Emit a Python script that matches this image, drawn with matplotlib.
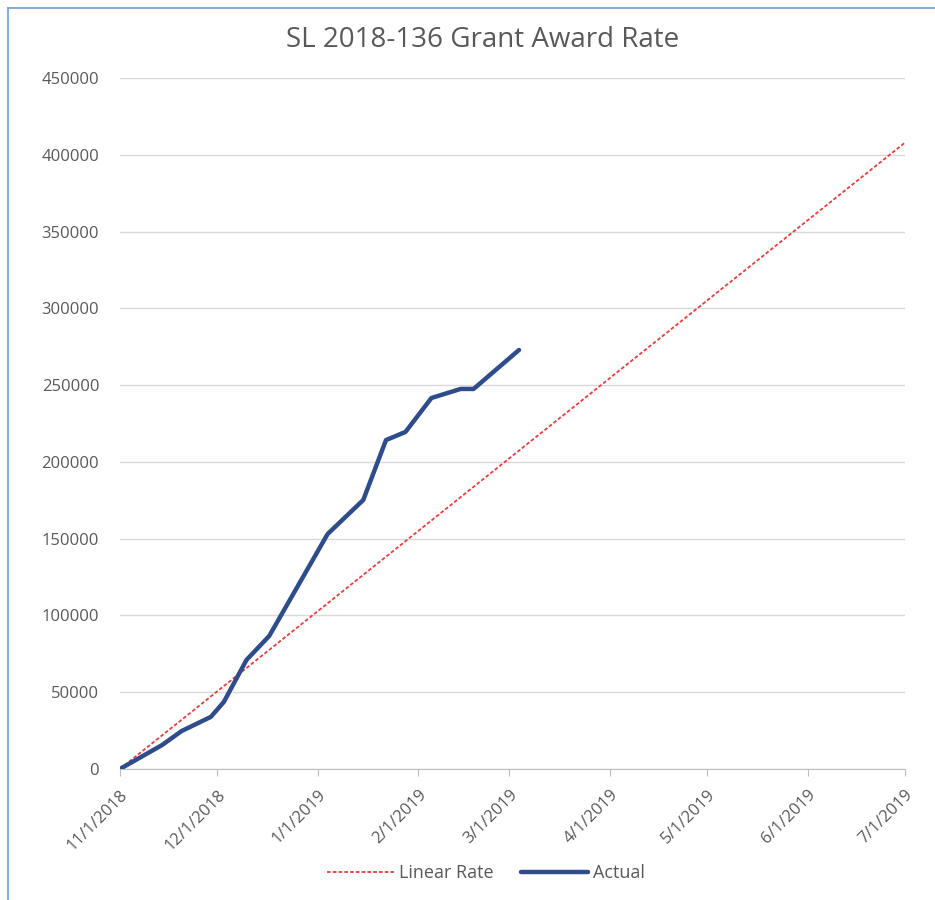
import matplotlib.pyplot as plt
import matplotlib.dates as mdates
import matplotlib.lines as mlines
import pandas as pd

# Actual awards
actual_dates = ["2018-11-01", "2018-11-14", "2018-11-20", "2018-11-29", "2018-12-03",
                "2018-12-10", "2018-12-17", "2019-01-04", "2019-01-15", "2019-01-22",
                "2019-01-28", "2019-02-05", "2019-02-14", "2019-02-18", "2019-03-04"]
actual_vals = [0, 15600, 24700, 33900, 43600, 71000, 86600, 153000, 175200, 214200,
               219500, 241600, 247500, 247500, 272900]

# Linear rate
linear_dates = ["2018-11-01", "2019-07-01"]
linear_vals = [0, 408000]

tick_dates = ["2018-11-01", "2018-12-01", "2019-01-01", "2019-02-01", "2019-03-01",
              "2019-04-01", "2019-05-01", "2019-06-01", "2019-07-01"]
y_ticks = [0, 50000, 100000, 150000, 200000, 250000, 300000, 350000, 400000, 450000]

plt.rcParams['font.family'] = ['Open Sans', 'DejaVu Sans']
grey = "#595959"

fig = plt.figure(figsize=(9.35, 9.0), dpi=100)
ax = fig.add_axes([0.1283, 0.1456, 0.968 - 0.1283, 0.9133 - 0.1456])

ax.plot(pd.to_datetime(linear_dates), linear_vals, color="#EE3B3B", lw=1.3,
        linestyle=(0, (2, 1.2)), label="Linear Rate", zorder=3)
ax.plot(pd.to_datetime(actual_dates), actual_vals, color="#2E4C8C", lw=3.2,
        solid_capstyle="round", solid_joinstyle="round", label="Actual", zorder=4)

ax.set_xlim(pd.Timestamp("2018-11-01"), pd.Timestamp("2019-07-01"))
ax.set_ylim(0, 450000)
ax.set_yticks(y_ticks)
ax.set_yticklabels([str(v) for v in y_ticks])
ax.set_xticks(pd.to_datetime(tick_dates))
ax.xaxis.set_major_formatter(mdates.DateFormatter("%-m/%-d/%Y"))
for lbl in ax.get_xticklabels():
    lbl.set_rotation(45)
    lbl.set_ha("right")
    lbl.set_rotation_mode("anchor")

ax.grid(axis="y", color="#D9D9D9", lw=1)
ax.set_axisbelow(True)
for s in ["left", "right", "top"]:
    ax.spines[s].set_visible(False)
ax.spines["bottom"].set_color("#BFBFBF")
ax.tick_params(axis="y", length=0, pad=15, labelsize=12, labelcolor=grey)
ax.tick_params(axis="x", length=5, color="#BFBFBF", labelsize=12, labelcolor=grey, pad=8)

fig.text(0.516, 1 - 40 / 900, "SL 2018-136 Grant Award Rate", ha="center", va="center",
         fontsize=20, color=grey)

leg = fig.legend(loc="center", ncol=2, frameon=False,
                 fontsize=13, labelcolor=grey, handlelength=3.7, handletextpad=0.3,
                 columnspacing=1.5)
leg.set_bbox_to_anchor((0.52, 1 - 873 / 900), transform=fig.transFigure)

# blue frame on left/top edges
fig.add_artist(mlines.Line2D([8 / 935, 8 / 935], [0, 1 - 8 / 900], color="#6FA0D8", lw=1.2))
fig.add_artist(mlines.Line2D([8 / 935, 1], [1 - 8 / 900, 1 - 8 / 900], color="#6FA0D8", lw=1.2))

plt.savefig("out.png", dpi=100)
